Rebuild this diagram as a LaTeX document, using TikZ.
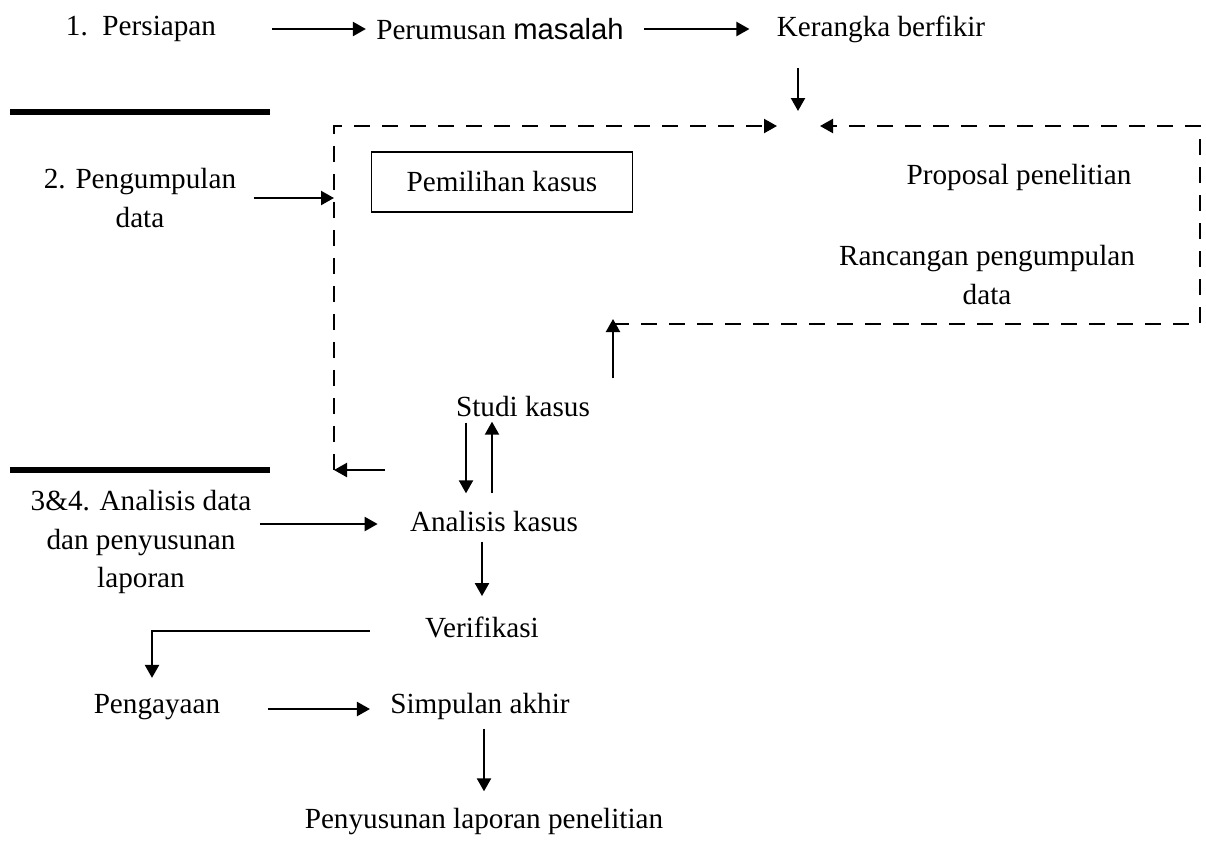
\documentclass[tikz,border=0pt]{standalone}
\usepackage{fontspec}
\setmainfont{Liberation Serif}
\newfontfamily\masalahfont{Liberation Sans}
\usetikzlibrary{arrows.meta}

\begin{document}
\begin{tikzpicture}[
 x=0.5pt,y=-0.5pt,
 every node/.style={font=\fontsize{14.6}{19.25}\selectfont,inner sep=0pt,align=center},
 kotak/.style={draw,line width=0.9pt,minimum width=130.5pt,minimum height=30pt},
 arr/.style={-{Triangle[length=6.5pt,width=7pt]},line width=1.1pt},
 putus/.style={line width=1.1pt,dash pattern=on 8pt off 6pt},
 batas/.style={line width=2.8pt}
]
\useasboundingbox (0,0) rectangle (1206,843);
\draw[batas] (10,112)--(270,112);
\draw[batas] (10,470)--(270,470);
\node (persiapan) at (141,29) {1.\ \ Persiapan};
\node (pengumpulan) at (140,198) {2. Pengumpulan\\data};
\node (analisisdata) at (141,542) {3\&4. Analisis data\\dan penyusunan\\laporan};
\node (perumusan) at (500,29) {Perumusan {\masalahfont masalah}};
\node (kerangka) at (881,29) {Kerangka berfikir};
\node[kotak] (pemilihan) at (502,182) {Pemilihan kasus};
\node (proposal) at (1019,177) {Proposal penelitian};
\node (rancangan) at (987,275) {Rancangan pengumpulan\\data};
\node (studi) at (523,406) {Studi kasus};
\node (analisis) at (494,521) {Analisis kasus};
\node (verifikasi) at (482,627) {Verifikasi};
\node (pengayaan) at (157,707) {Pengayaan};
\node (simpulan) at (480,706) {Simpulan akhir};
\node (penyusunan) at (484,822) {Penyusunan laporan penelitian};
\coordinate (temu) at (798,126);
\coordinate (kiriatas) at (334,126);
\coordinate (kiribawah) at (334,470);
\coordinate (kananatas) at (1200,126);
\coordinate (kananbawah) at (1200,324);
\coordinate (masuk) at (613,324);
\coordinate (balik) at (385,470);
\draw[arr,shorten <=28pt,shorten >=5pt] (persiapan.east)--(perumusan.west);
\draw[arr,shorten <=10pt,shorten >=13.5pt] (perumusan.east)--(kerangka.west);
\draw[arr,shorten <=12.5pt,shorten >=7.5pt] (kerangka.south -| temu)--(temu);
\draw[arr,putus,shorten >=10.5pt] (kiribawah)--(kiriatas)--(temu);
\draw[arr,putus,shorten >=11pt] (masuk)--(kananbawah)--(kananatas)--(temu);
\draw[arr,shorten <=8.5pt,shorten >=-2.5pt] (studi.north -| masuk)--(masuk);
\draw[arr] (balik)--(kiribawah);
\draw[arr,shorten <=8.5pt] (pengumpulan.east)--(pengumpulan.east -| kiriatas);
\draw[arr,shorten <=3pt,shorten >=8.5pt] ([xshift=-28.5pt]studi.south)--([xshift=-28.5pt]studi.south |- analisis.north);
\draw[arr,shorten <=8.5pt,shorten >=2.5pt] ([xshift=-15.5pt]studi.south |- analisis.north)--([xshift=-15.5pt]studi.south);
\draw[arr,shorten <=4pt,shorten >=16pt] ([yshift=-1.5pt]analisisdata.east |- analisis.west)--([yshift=-1.5pt]analisis.west);
\draw[arr,shorten <=5pt,shorten >=10pt] (analisis.south -| verifikasi.north)--(verifikasi.north);
\draw[arr,shorten <=27.5pt,shorten >=8pt] ([yshift=-2pt]verifikasi.west)-|([xshift=-2.5pt]pengayaan.north);
\draw[arr,shorten <=23.5pt,shorten >=10pt] ([yshift=-1pt]pengayaan.east)--([yshift=-1pt]pengayaan.east -| simpulan.west);
\draw[arr,shorten <=4.5pt,shorten >=8.5pt] (simpulan.south -| penyusunan.north)--(penyusunan.north);
\end{tikzpicture}
\end{document}
